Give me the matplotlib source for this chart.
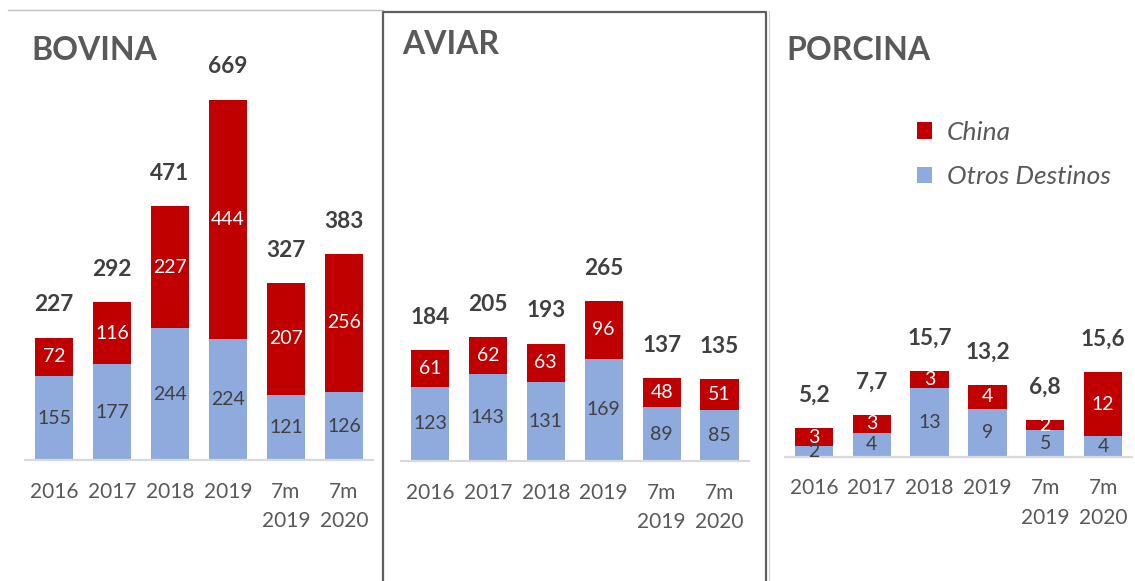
import matplotlib
matplotlib.use("Agg")
import matplotlib.pyplot as plt
from matplotlib.lines import Line2D

plt.rcParams['font.family'] = ['Lato', 'DejaVu Sans']

categories = ["2016", "2017", "2018", "2019", "7m\n2019", "7m\n2020"]

bovina_otros = [155, 177, 244, 224, 121, 126]
bovina_china = [72, 116, 227, 444, 207, 256]
bovina_total = [227, 292, 471, 669, 327, 383]

aviar_otros = [123, 143, 131, 169, 89, 85]
aviar_china = [61, 62, 63, 96, 48, 51]
aviar_total = [184, 205, 193, 265, 137, 135]

porcina_otros = [2.0, 4.3, 12.6, 8.8, 4.8, 3.7]
porcina_china = [3.2, 3.4, 3.1, 4.4, 2.0, 11.9]
porcina_total = [5.2, 7.7, 15.7, 13.2, 6.8, 15.6]

RED = "#C00000"
BLUE = "#8FAADC"
DARK = "#404040"
GRAY = "#595959"

W, H = 1135, 581
fig = plt.figure(figsize=(W / 100, H / 100), dpi=100)


def px_axes(left, right, bottom, top):
    return fig.add_axes([left / W, 1 - bottom / H, (right - left) / W, (bottom - top) / H])


def fmt_int(v):
    return f"{round(v):d}"


def fmt_dec(v):
    return f"{v:.1f}".replace(".", ",")


def panel(ax, otros, china, total, ymax, title, title_xy, total_fmt):
    x = list(range(len(categories)))
    b1 = ax.bar(x, otros, width=0.66, color=BLUE, zorder=2)
    b2 = ax.bar(x, china, width=0.66, bottom=otros, color=RED, zorder=2)
    ax.set_xlim(-0.5, len(categories) - 0.5)
    ax.set_ylim(0, ymax)
    for s in ["top", "left", "right"]:
        ax.spines[s].set_visible(False)
    ax.spines["bottom"].set_color("#D9D9D9")
    ax.spines["bottom"].set_linewidth(1.6)
    ax.spines["bottom"].set_zorder(3)
    ax.set_yticks([])
    ax.set_xticks(x)
    ax.set_xticklabels(categories, fontsize=15, color=GRAY, linespacing=1.6)
    ax.tick_params(axis="x", length=0, pad=15.5)
    ax.patch.set_alpha(0)
    for i in x:
        ax.text(i, otros[i] / 2, fmt_int(otros[i]), ha="center", va="center",
                fontsize=14, color=DARK, zorder=4)
        ax.text(i, otros[i] + china[i] / 2, fmt_int(china[i]), ha="center", va="center",
                fontsize=14, color="white", zorder=4)
        ax.annotate(total_fmt(total[i]), (i, otros[i] + china[i]), xytext=(0, 23.5),
                    textcoords="offset points", ha="center", va="center",
                    fontsize=16.3, fontweight="bold", color=DARK)
    fig.text(title_xy[0] / W, 1 - title_xy[1] / H, title, fontsize=23, fontweight="bold",
             color=GRAY, ha="left", va="center")
    return b1, b2


ax1 = px_axes(25, 373, 460, 40)
panel(ax1, bovina_otros, bovina_china, bovina_total, (460 - 40) / 0.5396, "BOVINA", (31, 50), fmt_int)

ax2 = px_axes(401, 748.5, 461, 40)
panel(ax2, aviar_otros, aviar_china, aviar_total, (461 - 40) / 0.605, "AVIAR", (402, 44), fmt_int)

ax3 = px_axes(785, 1132, 456.7, 40)
h_otros, h_china = panel(ax3, porcina_otros, porcina_china, porcina_total, (456.7 - 40) / 5.46,
                         "PORCINA", (786, 50), fmt_dec)

leg = fig.legend([h_china, h_otros], ["China", "Otros Destinos"],
                 loc="upper left", bbox_to_anchor=(917 / W, 1 - 121 / H),
                 frameon=False, borderpad=0, borderaxespad=0,
                 handlelength=0.58, handleheight=0.58,
                 handletextpad=0.55, labelspacing=0.81, fontsize=19)
for t in leg.get_texts():
    t.set_color(GRAY)
    t.set_fontstyle("italic")


def fig_line(xs, ys, color, lw):
    fig.add_artist(Line2D([x / W for x in xs], [1 - y / H for y in ys],
                          color=color, lw=lw, transform=fig.transFigure))


# panel frames
fig_line([8, 383], [10, 10], "#BFBFBF", 1.0)
fig_line([383, 383, 766, 766], [590, 11.5, 11.5, 590], "#5F5F5F", 1.6)
fig_line([769, 769], [11, 590], "#D0D0D0", 0.8)

fig.savefig("out.png", dpi=100)
